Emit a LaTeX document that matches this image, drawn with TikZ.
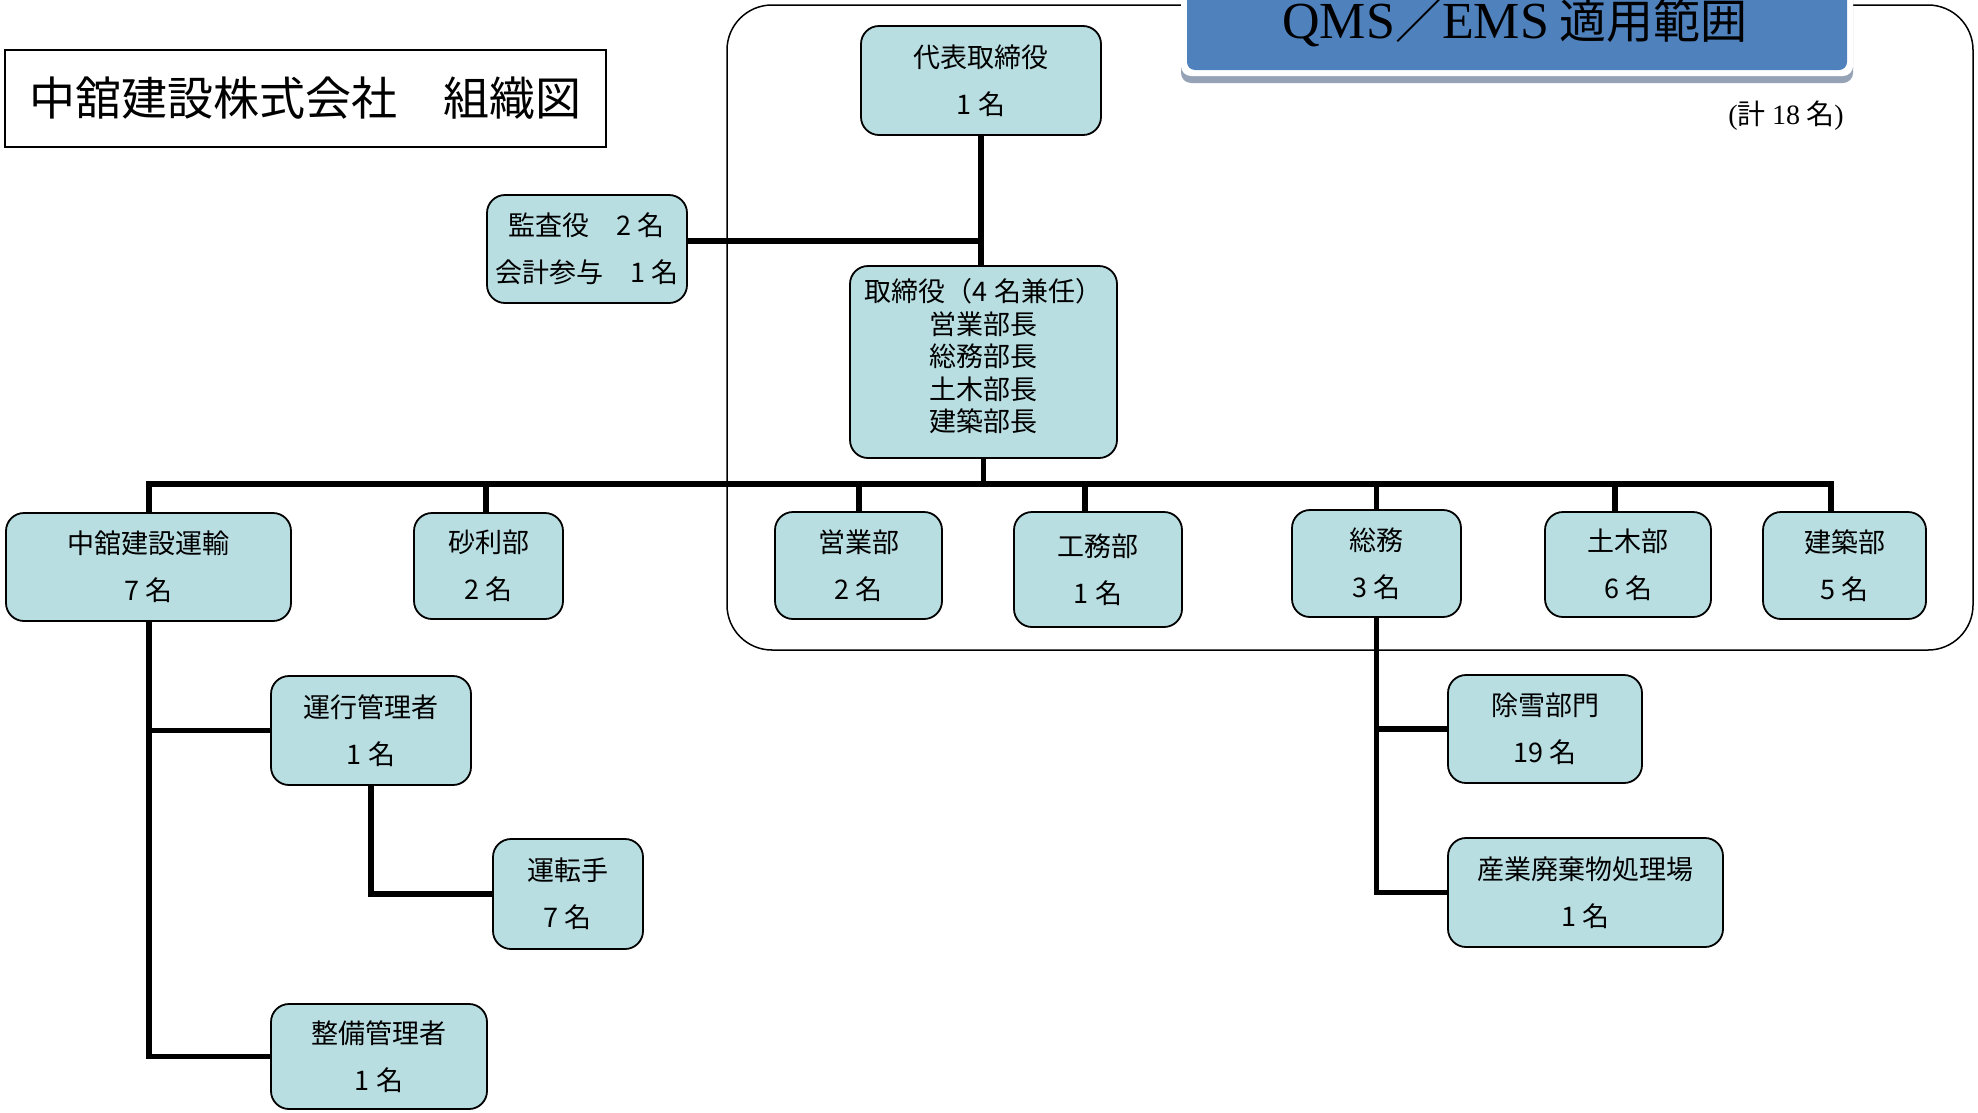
\documentclass[tikz,border=0pt]{standalone}
\usepackage{fontspec}
\setmainfont{Noto Sans CJK JP}
\newfontfamily\serifl{Liberation Serif}
\usetikzlibrary{backgrounds}
\definecolor{boxfill}{RGB}{184,222,226}
\definecolor{bannerblue}{RGB}{79,129,189}
\definecolor{bannershadow}{RGB}{150,163,182}
\begin{document}
\begin{tikzpicture}[x=1pt,y=-1pt,
  orgbox/.style={draw, line width=1.8pt, rounded corners=18pt, fill=boxfill, align=center, inner sep=0pt, font=\fontsize{27}{47}\selectfont},
  conn/.style={line width=5.5pt},
  frame/.style={draw, line width=1.5pt}]
\useasboundingbox (0,0) rectangle (1978,1112);
% title
\node[frame, fill=white, minimum width=601pt, minimum height=97pt, inner sep=0pt, font=\fontsize{46}{46}\selectfont] (title) at (305.5,98.5) {中舘建設株式会社　組織図};
% banner
\fill[bannershadow, rounded corners=10pt] (1181,-30) rectangle (1853,83);
\fill[white, rounded corners=10pt] (1181,-30) rectangle (1853,76);
\fill[bannerblue, rounded corners=8pt] (1187,-30) rectangle (1847,70);
\node[anchor=base, inner sep=0pt, font=\fontsize{47}{47}\selectfont] (banner) at (1515,38) {{\serifl\fontsize{52}{52}\selectfont QMS}／{\serifl\fontsize{52}{52}\selectfont EMS} 適用範囲};
\node[inner sep=0pt, font=\fontsize{28}{28}\selectfont] (total) at (1786,116) {{\serifl (}計 {\serifl 18} 名{\serifl )}};
% boxes
\node[orgbox, minimum width=240pt, minimum height=109pt] (daihyo) at (981,80.5) {代表取締役\\1 名};
\node[orgbox, minimum width=200pt, minimum height=108pt] (kansa) at (587,249) {監査役　2 名\\会計参与　1 名};
\node[orgbox, minimum width=267pt, minimum height=192pt, text depth=14pt, font=\fontsize{27}{32.5}\selectfont] (tori) at (983.5,362) {取締役（4 名兼任）\\営業部長\\総務部長\\土木部長\\建築部長};
\node[orgbox, minimum width=285pt, minimum height=108pt] (nakadate) at (148.5,567) {中舘建設運輸\\7 名};
\node[orgbox, minimum width=149pt, minimum height=106pt] (jari) at (488.5,566) {砂利部\\2 名};
\node[orgbox, minimum width=167pt, minimum height=107pt] (eigyo) at (858.5,565.5) {営業部\\2 名};
\node[orgbox, minimum width=168pt, minimum height=115pt] (koumu) at (1098,569.5) {工務部\\1 名};
\node[orgbox, minimum width=169pt, minimum height=107pt] (soumu) at (1376.5,563.5) {総務\\3 名};
\node[orgbox, minimum width=166pt, minimum height=105pt] (doboku) at (1628,564.5) {土木部\\6 名};
\node[orgbox, minimum width=163pt, minimum height=107pt] (kenchiku) at (1844.5,565.5) {建築部\\5 名};
\node[orgbox, minimum width=200pt, minimum height=109pt] (unko) at (371,730.5) {運行管理者\\1 名};
\node[orgbox, minimum width=150pt, minimum height=110pt] (untenshu) at (568,894) {運転手\\7 名};
\node[orgbox, minimum width=216pt, minimum height=105pt] (seibi) at (379,1056.5) {整備管理者\\1 名};
\node[orgbox, minimum width=194pt, minimum height=108pt] (josetsu) at (1545,729) {除雪部門\\19 名};
\node[orgbox, minimum width=275pt, minimum height=109pt] (sangyo) at (1585.5,892.5) {産業廃棄物処理場\\1 名};
% background: scope frame and connectors
\begin{scope}[on background layer]
\draw[frame, rounded corners=45pt] (727,5) rectangle (1973,650);
\draw[conn] (daihyo.south) -- (daihyo.south |- tori.north);
\coordinate (ke) at ([yshift=8pt]kansa.east);
\draw[conn] (ke) -- (ke -| daihyo.south);
\coordinate (bL) at (149,484);
\coordinate (bR) at (1831,484);
\draw[conn] (tori.south) -- (tori.south |- bL);
\draw[conn] (bL |- nakadate.north) -- (bL) -- (bR) -- (bR |- kenchiku.north);
\foreach \x/\n in {486/jari, 859/eigyo, 1085/koumu, 1376.5/soumu, 1615/doboku}{
  \coordinate (drop-\n) at (\x,484);
  \draw[conn] (drop-\n) -- (drop-\n |- \n.north);
}
\draw[conn] (nakadate.south -| bL) -- (bL |- seibi.west) -- (seibi.west);
\draw[conn] (bL |- unko.west) -- (unko.west);
\draw[conn] (unko.south) |- (untenshu.west);
\draw[conn] (soumu.south) |- (sangyo.west);
\draw[conn] (soumu.south |- josetsu.west) -- (josetsu.west);
\end{scope}
\end{tikzpicture}
\end{document}
